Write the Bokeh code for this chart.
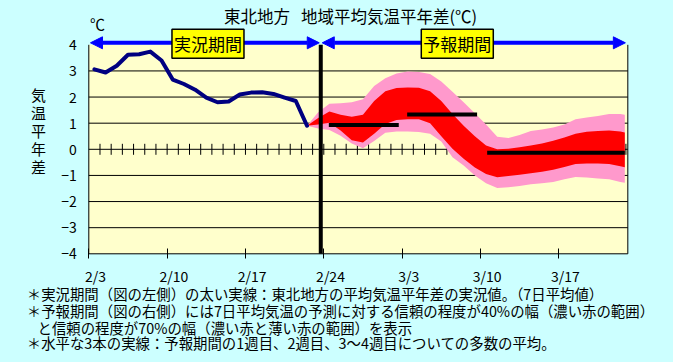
import numpy as np
from bokeh.plotting import figure
from bokeh.models import Range1d, FixedTicker, Label, Arrow, NormalHead
from bokeh.embed import file_html
from bokeh.resources import INLINE

FONT = "Noto Sans CJK JP"

# ---------------- data ----------------
title_text = "東北地方\u00a0\u00a0\u00a0地域平均気温平年差(℃)"
unit_text = "℃"
y_title = "気温平年差"
period_names = ["実況期間", "予報期間"]

x_tick_days = [0, 7, 14, 21, 28, 35, 42]
x_tick_labels = ["2/3", "2/10", "2/17", "2/24", "3/3", "3/10", "3/17"]
y_ticks = [-4, -3, -2, -1, 0, 1, 2, 3, 4]

# observed 7-day mean anomaly (2/3 .. 2/22), plotted at mid-day
obs_values = [3.06, 2.94, 3.2, 3.62, 3.64, 3.74, 3.4, 2.67, 2.5, 2.28,
              1.98, 1.8, 1.83, 2.1, 2.17, 2.18, 2.12, 1.98, 1.85, 0.9]

# forecast period (days since 2/3)
fc_days = [19.5, 20.5, 21.5, 22.5, 23.5, 24.5, 25.5, 26.5, 27.5, 28.5,
           29.5, 30.5, 31.5, 32.5, 33.5, 34.5, 35.5, 36.5, 37.5, 38.5,
           39.5, 40.5, 41.5, 42.5, 43.5, 44.5, 45.5, 46.5, 47.5, 47.9]
p70_hi = [0.9, 1.42, 1.74, 1.76, 1.8, 1.92, 2.42, 2.72, 2.9, 2.98,
          2.96, 2.88, 2.6, 2.2, 1.8, 1.38, 0.95, 0.48, 0.43, 0.55,
          0.7, 0.76, 0.83, 0.95, 1.15, 1.22, 1.27, 1.35, 1.35, 1.32]
p40_hi = [0.9, 1.2, 1.45, 1.32, 1.25, 1.32, 1.85, 2.22, 2.35, 2.37,
          2.36, 2.22, 1.85, 1.35, 0.9, 0.5, 0.15, 0.0, 0.02, 0.08,
          0.15, 0.22, 0.33, 0.45, 0.6, 0.67, 0.7, 0.72, 0.68, 0.64]
p40_lo = [0.9, 0.95, 1.02, 0.72, 0.35, 0.26, 0.6, 0.97, 1.12, 1.15,
          1.15, 1.0, 0.5, 0.02, -0.36, -0.7, -0.95, -1.07, -1.02, -0.97,
          -0.92, -0.86, -0.78, -0.68, -0.56, -0.54, -0.54, -0.56, -0.65, -0.69]
p70_lo = [0.9, 0.8, 0.74, 0.52, 0.22, 0.04, 0.32, 0.63, 0.68, 0.68,
          0.66, 0.6, 0.3, -0.3, -0.62, -1.0, -1.3, -1.48, -1.45, -1.4,
          -1.34, -1.3, -1.25, -1.15, -1.06, -1.08, -1.12, -1.15, -1.25, -1.28]

# weekly means of the forecast (week 1, week 2, weeks 3-4)
week_start = [21.45, 28.45, 35.6]
week_end = [27.7, 34.7, 47.9]
week_mean = [0.93, 1.33, -0.13]

split_day = 20.73
plot_end_day = 48.17

notes = [
    "＊実況期間（図の左側）の太い実線：東北地方の平均気温平年差の実況値。（7日平均値）",
    "＊予報期間（図の右側）には7日平均気温の予測に対する信頼の程度が40%の幅（濃い赤の範囲）",
    "と信頼の程度が70%の幅（濃い赤と薄い赤の範囲）を表示",
    "＊水平な3本の実線：予報期間の1週目、2週目、3～4週目についての多数の平均。",
]

# ---------------- figure (frame = whole canvas) ----------------
BG = "#CCFFFF"
PLOT_BG = "#FFFFCC"
W, H = 673, 362
x0_px, px_per_day = 88.3, 11.19      # canvas x of day 0, px per day
y4_px, ym4_px = 44.3, 253.3          # canvas y of +4 and -4
px_per_unit = (ym4_px - y4_px) / 8.0
x_start = -x0_px / px_per_day
x_stop = x_start + W / px_per_day
y_top = 4 + y4_px / px_per_unit
y_bot = -4 - (H - ym4_px) / px_per_unit

p = figure(width=W, height=H, x_range=Range1d(x_start, x_stop), y_range=Range1d(y_bot, y_top),
           output_backend="svg", toolbar_location=None,
           min_border_left=0, min_border_right=0, min_border_top=0, min_border_bottom=0,
           background_fill_color=BG, border_fill_color=BG, outline_line_color=None)

def px_to_day(x):
    return x_start + x / px_per_day

def py_to_val(y):
    return y_top - y / px_per_unit

# plotting box
p.quad(left=0, right=plot_end_day, bottom=-4, top=4, fill_color=PLOT_BG, line_color=None)
grid_y = [t for t in y_ticks if -4 < t < 4]
p.segment(x0=[0] * len(grid_y), y0=grid_y, x1=[plot_end_day] * len(grid_y), y1=grid_y,
          line_color="black", line_width=1)
p.segment(x0=[0, plot_end_day, 0], y0=[-4, -4, -4], x1=[0, plot_end_day, plot_end_day],
          y1=[4, 4, -4], line_color="black", line_width=1)
p.xgrid.visible = False
p.ygrid.visible = False

# y axis fixed at day 0
p.yaxis.fixed_location = 0
p.yaxis.ticker = FixedTicker(ticks=y_ticks)
p.yaxis.major_label_overrides = {t: (str(t).replace("-", "−")) for t in y_ticks}
p.yaxis.major_tick_in = 0
p.yaxis.major_tick_out = 0
p.yaxis.minor_tick_line_color = None
p.yaxis.axis_line_color = None
p.yaxis.major_label_standoff = 12
p.yaxis.major_label_text_font = FONT
p.yaxis.major_label_text_font_size = "14px"
p.yaxis.major_label_text_color = "black"

# x axis fixed at -4 (weekly tick marks); date labels placed a little right of each tick
p.xaxis.fixed_location = -4
p.xaxis.ticker = FixedTicker(ticks=x_tick_days)
p.xaxis.major_tick_line_color = "black"
p.xaxis.major_tick_in = 5
p.xaxis.major_tick_out = 5
p.xaxis.minor_tick_line_color = None
p.xaxis.axis_line_color = None
p.xaxis.major_label_text_color = None
p.xaxis.major_label_text_font_size = "1px"

lab_shift = 0.6
for d, lab in zip(x_tick_days, x_tick_labels):
    p.add_layout(Label(x=d + lab_shift, y=py_to_val(275), text=lab,
                       text_align="center", text_baseline="middle",
                       text_font=FONT, text_font_size="14px", text_color="black"))

# daily ticks on the zero line
tick_h = 5.5 / px_per_unit
daily = list(range(1, int(plot_end_day) + 1))
p.segment(x0=daily, y0=[-tick_h] * len(daily), x1=daily, y1=[tick_h] * len(daily),
          line_color="black", line_width=1)

# forecast bands
p.varea(x=fc_days, y1=p70_lo, y2=p70_hi, fill_color="#FF99CC")
p.varea(x=fc_days, y1=p40_lo, y2=p40_hi, fill_color="#FF0000")

# observed line
obs_x = [i + 0.5 for i in range(len(obs_values))]
p.line(obs_x, obs_values, line_color="#000080", line_width=4,
       line_join="round", line_cap="round")

# weekly means
p.segment(x0=week_start, y0=week_mean, x1=week_end, y1=week_mean,
          line_color="black", line_width=4)

# split line
p.line([split_day, split_day], [-4, 4], line_color="black", line_width=4)

# period arrows
arrow_y = 4 + 2.0 / px_per_unit
gap = 1.5 / px_per_day
for xs, xe in [(0.15, split_day - gap), (split_day + gap, 47.95)]:
    p.add_layout(Arrow(
        start=NormalHead(size=12, fill_color="#0000FF", line_color="#0000FF"),
        end=NormalHead(size=12, fill_color="#0000FF", line_color="#0000FF"),
        x_start=xs, y_start=arrow_y, x_end=xe, y_end=arrow_y,
        line_color="#0000FF", line_width=4))

for name, cx in zip(period_names, [10.65, 32.93]):
    p.add_layout(Label(x=cx, y=4.0 + 1.0 / px_per_unit, text=name, text_align="center",
                       text_baseline="middle",
                       text_font=FONT, text_font_size="17px", text_color="black",
                       background_fill_color="#FFFF00", border_line_color="black",
                       border_line_width=1.5, padding=2))

# title and unit
p.add_layout(Label(x=px_to_day(350), y=py_to_val(15), text=title_text,
                   text_align="center", text_baseline="middle",
                   text_font=FONT, text_font_size="16.5px", text_color="black"))
p.add_layout(Label(x=px_to_day(97), y=py_to_val(22.5), text=unit_text,
                   text_align="center", text_baseline="middle",
                   text_font=FONT, text_font_size="15px", text_color="black"))

# vertical y title
for i, ch in enumerate(y_title):
    p.add_layout(Label(x=px_to_day(38), y=py_to_val(93.5 + 18.1 * i), text=ch,
                       text_align="center", text_baseline="middle",
                       text_font=FONT, text_font_size="15px", text_color="black"))

# notes
note_x = [26.3, 26.3, 37.0, 26.3]
note_y = [293.3, 310.0, 326.7, 342.0]
for t, nx, ny in zip(notes, note_x, note_y):
    p.add_layout(Label(x=px_to_day(nx), y=py_to_val(ny), text=t,
                       text_align="left", text_baseline="middle",
                       text_font=FONT, text_font_size="14.4px", text_color="black"))

html = file_html(p, INLINE, title="東北地方 地域平均気温平年差")
html = html.replace("</head>", "<style>body{background-color:#CCFFFF;}</style></head>", 1)
open("out.html", "w").write(html)
